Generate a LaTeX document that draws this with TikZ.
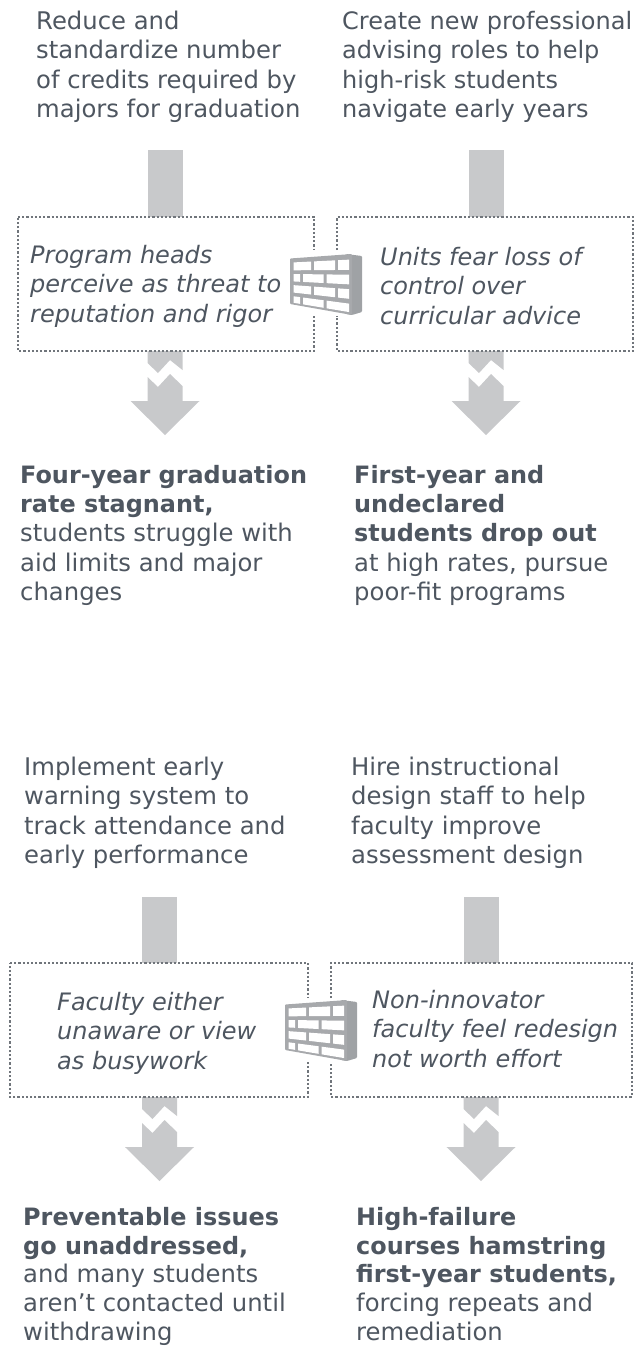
\documentclass[tikz,border=0pt]{standalone}
\usepackage{fontspec}
\setmainfont{DejaVu Sans}
\definecolor{txtc}{HTML}{4E5660}
\definecolor{barc}{HTML}{C8C9CB}
\definecolor{wallc}{HTML}{A7A9AC}
\definecolor{wallside}{HTML}{9FA2A5}
\definecolor{dotc}{HTML}{70757B}
\newcommand{\bt}[1]{{\fontsize{23.9}{29.3}\selectfont\bfseries #1}}
\tikzset{
  x=1pt,y=-1pt,
  lbl/.style={anchor=north west,inner sep=0pt,align=left,text=txtc,font=\fontsize{24.3}{29.3}\selectfont},
  lblb/.style={lbl,font=\fontsize{24.3}{28.7}\selectfont},
  ital/.style={lbl,font=\fontsize{24}{29.3}\selectfont\itshape},
  barfill/.style={fill=barc,draw=none},
  dotline/.style={draw=dotc,line width=2.6pt,dash pattern=on 2.2pt off 2.0pt},
  pics/brickwall/.style={code={
    \fill[wallside,rounded corners=1pt] (56,0) -- (72,2) -- (72,58) -- (62,61) -- (56,60) -- cycle;
    \fill[wallc,rounded corners=1pt] (0,4.5) -- (62,0) -- (62,61) -- (0,50) -- cycle;
    \foreach \xa/\xb/\fa/\fb in {
      3.5/21/.09/.26, 24/45/.09/.26, 48/59/.09/.26,
      3.5/10/.34/.50, 13/33.5/.34/.50, 36.5/59/.34/.50,
      3.5/21/.58/.74, 24/45/.58/.74, 48/59/.58/.74,
      3.5/10/.82/.96, 13/33.5/.82/.96, 36.5/59/.82/.96}{
      \fill[white]
        (\xa,{4.5*(1-\xa/62)*(1-\fa)+(50+11*\xa/62)*\fa}) --
        (\xb,{4.5*(1-\xb/62)*(1-\fa)+(50+11*\xb/62)*\fa}) --
        (\xb,{4.5*(1-\xb/62)*(1-\fb)+(50+11*\xb/62)*\fb}) --
        (\xa,{4.5*(1-\xa/62)*(1-\fb)+(50+11*\xa/62)*\fb}) -- cycle;
    }
  }}
}
\newcommand{\flowbars}[4]{%
  \fill[barfill] (#1-17.5,#2) rectangle (#1+17.5,#3);
  \fill[barfill] (#1-17.5,#4) -- (#1+17.5,#4) -- (#1+17.5,#4+19) -- (#1+5,#4+9) -- (#1-7,#4+22) -- (#1-17.5,#4+12) -- cycle;
  \fill[barfill] (#1-17.5,#4+26) -- (#1-7,#4+36) -- (#1+5,#4+23) -- (#1+17.5,#4+35) -- (#1+17.5,#4+50) -- (#1+34.5,#4+50) -- (#1,#4+84) -- (#1-34.5,#4+50) -- (#1-17.5,#4+50) -- cycle;
}
\begin{document}
\begin{tikzpicture}
\useasboundingbox (0,0) rectangle (634,1346);
% upper group
\flowbars{165}{150}{217}{351}
\flowbars{486}{150}{217}{351}
\draw[dotline] (18,217) -- (314,217) -- (314,250);
\draw[dotline] (314,316) -- (314,351) -- (18,351) -- (18,217);
\draw[dotline] (337,250) -- (337,217) -- (633,217) -- (633,351) -- (337,351) -- (337,316);
\pic at (290,254) {brickwall};
\node[lbl] (t1) at (36,11) {Reduce and\\standardize number\\of credits required by\\majors for graduation};
\node[lbl,font=\fontsize{24}{29.3}\selectfont] (t2) at (342,11) {Create new professional\\advising roles to help\\high-risk students\\navigate early years};
\node[ital] (m1) at (30,245) {Program heads\\perceive as threat to\\reputation and rigor};
\node[ital] (m2) at (380,247) {Units fear loss of\\control over\\curricular advice};
\node[lbl] (b1) at (20,465) {\bt{Four-year graduation}\\\bt{rate stagnant,}\\students struggle with\\aid limits and major\\changes};
\node[lbl] (b2) at (354,465) {\bt{First-year and}\\\bt{undeclared}\\\bt{students drop out}\\at high rates, pursue\\poor-fit programs};
% lower group
\flowbars{159.5}{897}{963}{1097}
\flowbars{481}{897}{963}{1097}
\draw[dotline] (10,963) -- (308,963) -- (308,998);
\draw[dotline] (308,1062) -- (308,1097) -- (10,1097) -- (10,963);
\draw[dotline] (331,998) -- (331,963) -- (632,963) -- (632,1097) -- (331,1097) -- (331,1062);
\pic at (285,1000) {brickwall};
\node[lbl] (t3) at (24,757) {Implement early\\warning system to\\track attendance and\\early performance};
\node[lbl] (t4) at (351,757) {Hire instructional\\design staff to help\\faculty improve\\assessment design};
\node[ital] (m3) at (57,992) {Faculty either\\unaware or view\\as busywork};
\node[ital] (m4) at (372,990) {Non-innovator\\faculty feel redesign\\not worth effort};
\node[lblb] (b3) at (23,1207) {\bt{Preventable issues}\\\bt{go unaddressed,}\\and many students\\aren’t contacted until\\withdrawing};
\node[lblb] (b4) at (356,1207) {\bt{High-failure}\\\bt{courses hamstring}\\\bt{first-year students,}\\forcing repeats and\\remediation};
\end{tikzpicture}
\end{document}
